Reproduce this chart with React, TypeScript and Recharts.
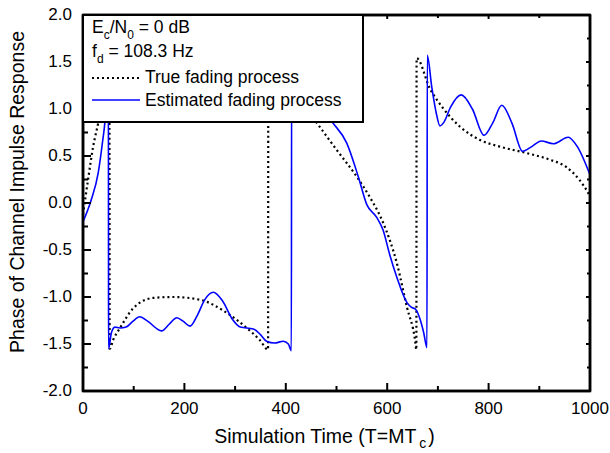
import * as R from "recharts";
import { Line, LineChart, XAxis, YAxis } from "recharts";

// true fading phase (wraps at +/- pi/2)
const trueX = [0, 10, 20, 30, 40, 48, 52, 52.6, 60, 73, 99, 138, 178, 231, 284, 323, 349, 365, 365.5, 400, 430, 467, 501, 540, 566, 592, 619, 639, 655, 657.5, 658, 684, 710, 744, 783, 822, 876, 921, 954, 980, 996, 1000];
const trueY = [-0.12, 0.25, 0.6, 0.85, 1.12, 1.38, 1.55, -1.55, -1.45, -1.33, -1.12, -1.01, -1.0, -1.03, -1.17, -1.33, -1.46, -1.56, 1.57, 1.31, 1.08, 0.81, 0.56, 0.28, 0.06, -0.21, -0.64, -1.11, -1.46, -1.56, 1.54, 1.22, 1.01, 0.81, 0.67, 0.6, 0.53, 0.46, 0.38, 0.24, 0.11, 0.07];

// estimated phase
const estX = [0, 16, 30, 39, 43, 47, 50, 50.5, 56, 63, 73, 85, 98, 112, 128, 155, 170, 185, 198, 211, 225, 240, 257, 275, 295, 310, 336, 350, 362, 378, 395, 405, 411, 411.5, 430, 450, 470, 493, 520, 543, 560, 579, 592, 605, 619, 639, 648, 656, 665, 672, 678.5, 679, 688, 697, 704, 712, 725, 746, 768, 791, 808, 826, 846, 867, 885, 904, 928, 957, 975, 1000];
const estY = [-0.2, 0.03, 0.32, 0.67, 0.85, 1.2, 1.55, -1.55, -1.38, -1.32, -1.33, -1.32, -1.26, -1.21, -1.26, -1.36, -1.29, -1.22, -1.26, -1.31, -1.2, -1.03, -0.95, -1.04, -1.24, -1.32, -1.34, -1.4, -1.47, -1.49, -1.47, -1.5, -1.57, 1.57, 1.38, 1.18, 1.0, 0.85, 0.64, 0.28, -0.02, -0.15, -0.29, -0.55, -0.79, -1.06, -1.11, -1.13, -1.24, -1.38, -1.54, 1.57, 1.23, 0.95, 0.82, 0.86, 1.02, 1.15, 1.0, 0.72, 0.85, 1.04, 0.85, 0.55, 0.6, 0.66, 0.63, 0.7, 0.6, 0.3];

const xTicks = [0, 100, 200, 300, 400, 500, 600, 700, 800, 900, 1000];
const yTicks = [-2, -1.75, -1.5, -1.25, -1, -0.75, -0.5, -0.25, 0, 0.25, 0.5, 0.75, 1, 1.25, 1.5, 1.75, 2];

const FONT = '"Liberation Sans", Arial, Helvetica, sans-serif';
const TRUE_STYLE = { name: "True fading process", stroke: "#000", strokeWidth: 2.2, strokeDasharray: "2 3" };
const EST_STYLE = { name: "Estimated fading process", stroke: "#0000ff", strokeWidth: 1.6, strokeDasharray: undefined };

const isMajorX = (v: number) => v % 200 === 0;
const isMajorY = (v: number) => Math.abs(v * 2 - Math.round(v * 2)) < 1e-6;

function BottomTick({ x, y, payload }: any) {
  const major = isMajorX(payload.value);
  return (
    <g>
      <line x1={x} x2={x} y1={y} y2={y - (major ? 8 : 5)} stroke="#000" strokeWidth={2} />
      {major && (
        <text x={x} y={y + 23} textAnchor="middle" fontFamily={FONT} fontSize={17} fill="#000">
          {payload.value}
        </text>
      )}
    </g>
  );
}

function TopTick({ x, y, payload }: any) {
  const major = isMajorX(payload.value);
  return <line x1={x} x2={x} y1={y} y2={y + (major ? 4 : 3)} stroke="#000" strokeWidth={2} />;
}

function LeftTick({ x, y, payload }: any) {
  const major = isMajorY(payload.value);
  return (
    <g>
      <line x1={x} x2={x + (major ? 8 : 5)} y1={y} y2={y} stroke="#000" strokeWidth={2} />
      {major && (
        <text x={x - 11} y={y + 5} textAnchor="end" fontFamily={FONT} fontSize={17} fill="#000">
          {payload.value.toFixed(1)}
        </text>
      )}
    </g>
  );
}

function RightTick({ x, y, payload }: any) {
  const major = isMajorY(payload.value);
  return <line x1={x} x2={x - (major ? 4 : 3)} y1={y} y2={y} stroke="#000" strokeWidth={2} />;
}

// frame + axis titles, placed from the chart's plot area
function Decor() {
  const usePA = (R as any).usePlotArea;
  const pa = usePA ? usePA() : null;
  if (!pa) return null;
  const cx = pa.x + pa.width / 2 - 12;
  const cy = pa.y + pa.height / 2 - 11;
  return (
    <g>
      <rect x={pa.x} y={pa.y} width={pa.width} height={pa.height} fill="none" stroke="#000" strokeWidth={2.5} />
      <text transform={`translate(24,${cy}) rotate(-90)`} textAnchor="middle" fontFamily={FONT} fontSize={19.5} fill="#000">
        Phase of Channel Impulse Response
      </text>
      <text x={cx} y={pa.y + pa.height + 52} textAnchor="middle" fontFamily={FONT} fontSize={19.5} fill="#000">
        Simulation Time (T=MT
        <tspan fontSize={14} dx={3} dy={5}>c</tspan>
        <tspan dx={2} dy={-5}>)</tspan>
      </text>
    </g>
  );
}

function LegendBox() {
  const txt = { fontFamily: FONT, fontSize: 17.5, fill: "#000" };
  return (
    <div
      style={{
        position: "absolute",
        left: 82,
        top: 14,
        width: 282,
        height: 109,
        boxSizing: "border-box",
        border: "2px solid #000",
        background: "#fff",
      }}
    >
      <svg width={278} height={105} style={{ display: "block" }}>
        <text x={8} y={17} {...txt}>
          E<tspan fontSize={12} dy={6}>c</tspan>
          <tspan dy={-6}>/N</tspan>
          <tspan fontSize={12} dy={6}>0</tspan>
          <tspan dy={-6}> = 0 dB</tspan>
        </text>
        <text x={8} y={41} {...txt}>
          f<tspan fontSize={12} dy={6}>d</tspan>
          <tspan dy={-6}> = 108.3 Hz</tspan>
        </text>
        {[TRUE_STYLE, EST_STYLE].map((s, i) => (
          <g key={s.name}>
            <line
              x1={8}
              x2={56}
              y1={62 + i * 22}
              y2={62 + i * 22}
              stroke={s.stroke}
              strokeWidth={s.strokeWidth}
              strokeDasharray={s.strokeDasharray}
            />
            <text x={61} y={67 + i * 23} {...txt}>
              {s.name}
            </text>
          </g>
        ))}
      </svg>
    </div>
  );
}

export default function App() {
  const trueData = trueX.map((x, i) => ({ x, y: trueY[i] }));
  const estData = estX.map((x, i) => ({ x, y: estY[i] }));
  const axisLine = { stroke: "#000", strokeWidth: 2.5 };

  return (
    <div style={{ position: "absolute", left: 0, top: 0, width: 610, height: 453, background: "#fff" }}>
      <LineChart width={610} height={453} margin={{ top: 14, right: 19, bottom: 0, left: 0 }}>
        <XAxis
          dataKey="x"
          type="number"
          domain={[0, 1000]}
          ticks={xTicks}
          interval={0}
          tickSize={0}
          tickMargin={0}
          axisLine={axisLine}
          height={62}
          tick={BottomTick}
        />
        <XAxis
          xAxisId="top"
          dataKey="x"
          orientation="top"
          type="number"
          domain={[0, 1000]}
          ticks={xTicks}
          interval={0}
          tickSize={0}
          tickMargin={0}
          axisLine={axisLine}
          height={1}
          tick={TopTick}
        />
        <YAxis
          type="number"
          domain={[-2, 2]}
          ticks={yTicks}
          interval={0}
          tickSize={0}
          tickMargin={0}
          axisLine={axisLine}
          width={83}
          tick={LeftTick}
        />
        <YAxis
          yAxisId="right"
          orientation="right"
          type="number"
          domain={[-2, 2]}
          ticks={yTicks}
          interval={0}
          tickSize={0}
          tickMargin={0}
          axisLine={axisLine}
          width={1}
          tick={RightTick}
        />
        <Decor />
        <Line
          data={trueData}
          dataKey="y"
          name={TRUE_STYLE.name}
          type="monotone"
          stroke={TRUE_STYLE.stroke}
          strokeWidth={TRUE_STYLE.strokeWidth}
          strokeDasharray={TRUE_STYLE.strokeDasharray}
          dot={false}
          activeDot={false}
          isAnimationActive={false}
        />
        <Line
          data={estData}
          dataKey="y"
          xAxisId="top"
          yAxisId="right"
          name={EST_STYLE.name}
          type="monotone"
          stroke={EST_STYLE.stroke}
          strokeWidth={EST_STYLE.strokeWidth}
          dot={false}
          activeDot={false}
          isAnimationActive={false}
        />
      </LineChart>
      <LegendBox />
    </div>
  );
}
